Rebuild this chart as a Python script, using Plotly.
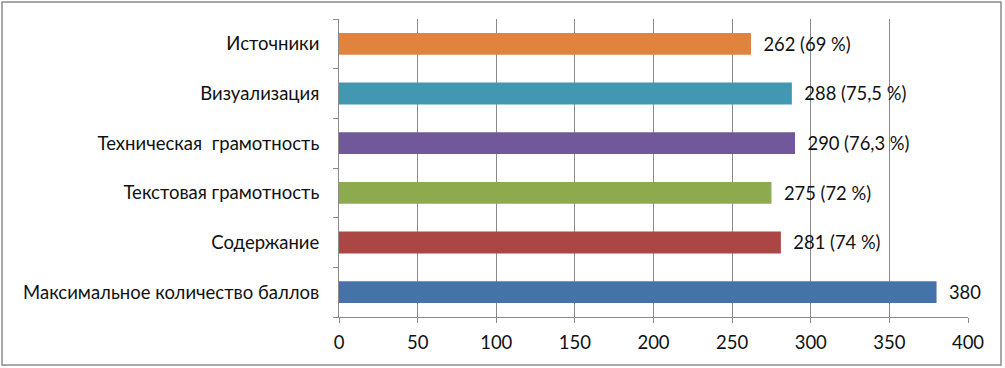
import plotly.graph_objects as go

categories = ["Максимальное количество баллов", "Содержание", "Текстовая грамотность",
              "Техническая  грамотность", "Визуализация", "Источники"]
values = [380, 281, 275, 290, 288, 262]
labels = ["380", "281 (74 %)", "275 (72 %)", "290 (76,3 %)", "288 (75,5 %)", "262 (69 %)"]
colors = ["#4672AA", "#AA4644", "#8DAA4E", "#71589A", "#4298B1", "#DF833F"]
x_ticks = [0, 50, 100, 150, 200, 250, 300, 350, 400]

FONT = "Lato, Open Sans, sans-serif"
FS = 18.5

fig = go.Figure(go.Bar(
    y=categories, x=values, orientation="h",
    marker=dict(color=colors, line=dict(width=0)),
    text=["  " + t for t in labels], textposition="outside",
    textfont=dict(family=FONT, size=FS, color="#111111"),
    cliponaxis=False,
))

W, H = 1005, 368
L, R, T, B = 339, 37, 19, 51
pw, ph = W - L - R, H - T - B

def px_x(p):
    return (p - L) / pw

def px_y(p):
    return 1 - (p - T) / ph

fig.update_layout(
    width=W, height=H,
    margin=dict(l=L, r=R, t=T, b=B),
    paper_bgcolor="white", plot_bgcolor="white",
    showlegend=False,
    bargap=0.56,
    font=dict(family=FONT, size=FS, color="#111111"),
    xaxis=dict(range=[0, 400], tickvals=x_ticks, showgrid=True, gridcolor="#8A8A8A", gridwidth=1,
               showline=True, linecolor="#8A8A8A", linewidth=1,
               ticks="outside", ticklen=5, tickcolor="#8A8A8A", ticklabelstandoff=4,
               tickfont=dict(family=FONT, size=FS, color="#111111"), zeroline=False),
    yaxis=dict(showline=True, linecolor="#8A8A8A", linewidth=1,
               ticks="outside", ticklen=5, tickcolor="#8A8A8A", tickson="boundaries",
               tickfont=dict(family=FONT, size=FS, color="#111111"),
               ticklabelstandoff=15, showgrid=False),
    shapes=[dict(type="rect", xref="paper", yref="paper",
                 x0=px_x(2), x1=px_x(1001), y0=px_y(2), y1=px_y(365),
                 line=dict(color="#8C8C8C", width=1.5), fillcolor="rgba(0,0,0,0)", layer="below")],
)

fig.write_html("out.html", config={"displayModeBar": False},
               post_script="document.body.style.margin='0px';document.body.style.padding='0px';")
